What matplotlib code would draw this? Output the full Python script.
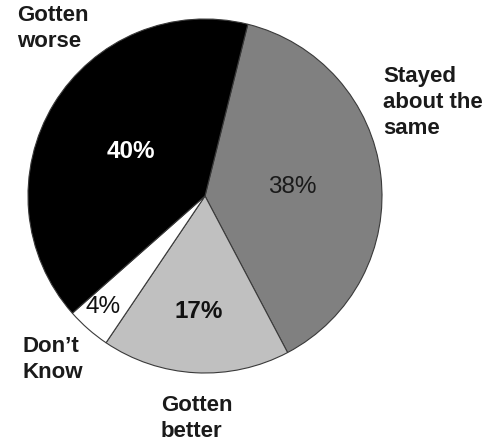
#!/usr/bin/env python3
"""Pie chart: how things have changed (survey shares)."""

import matplotlib

matplotlib.use("Agg")
import matplotlib.pyplot as plt

# Slices in clockwise order, starting at the black/gray edge near 12 o'clock
categories = ["Stayed\nabout the\nsame", "Gotten\nbetter", "Don\u2019t\nKnow", "Gotten\nworse"]
shares = [38, 17, 4, 40]
pct_labels = ["38%", "17%", "4%", "40%"]

COLORS = ["#808080", "#c0c0c0", "#ffffff", "#000000"]
PCT_COLORS = ["#1a1a1a", "#111111", "#111111", "#ffffff"]
PCT_WEIGHTS = ["normal", "bold", "normal", "bold"]

W, H = 493, 445
CENTER = (205, H - 196)
RADIUS = 177

# pixel positions (x, y from top) of the labels
CAT_POS = [(383, 66), (161, 395), (22, 336), (17, 5)]
PCT_POS = [(292, 187), (199, 311), (103, 307), (131, 151)]

plt.rcParams["font.family"] = ["Liberation Sans", "DejaVu Sans"]

fig = plt.figure(figsize=(W / 100, H / 100), dpi=100)
ax = fig.add_axes([0, 0, 1, 1])

ax.pie(
    shares, colors=COLORS, startangle=76, counterclock=False,
    center=CENTER, radius=RADIUS, frame=True,
    wedgeprops=dict(edgecolor="#3a3a3a", linewidth=0.8),
)
ax.set_xlim(0, W)
ax.set_ylim(0, H)
ax.set_aspect("equal")
ax.axis("off")

for name, (x, y) in zip(categories, CAT_POS):
    ax.text(x, H - y, name, ha="left", va="top", fontsize=16,
            fontweight="bold", color="#1a1a1a", linespacing=1.3)

for lab, (x, y), c, w in zip(pct_labels, PCT_POS, PCT_COLORS, PCT_WEIGHTS):
    ax.text(x, H - y, lab, ha="center", va="center", fontsize=17.5,
            fontweight=w, color=c)

fig.savefig("out.png", dpi=100)
